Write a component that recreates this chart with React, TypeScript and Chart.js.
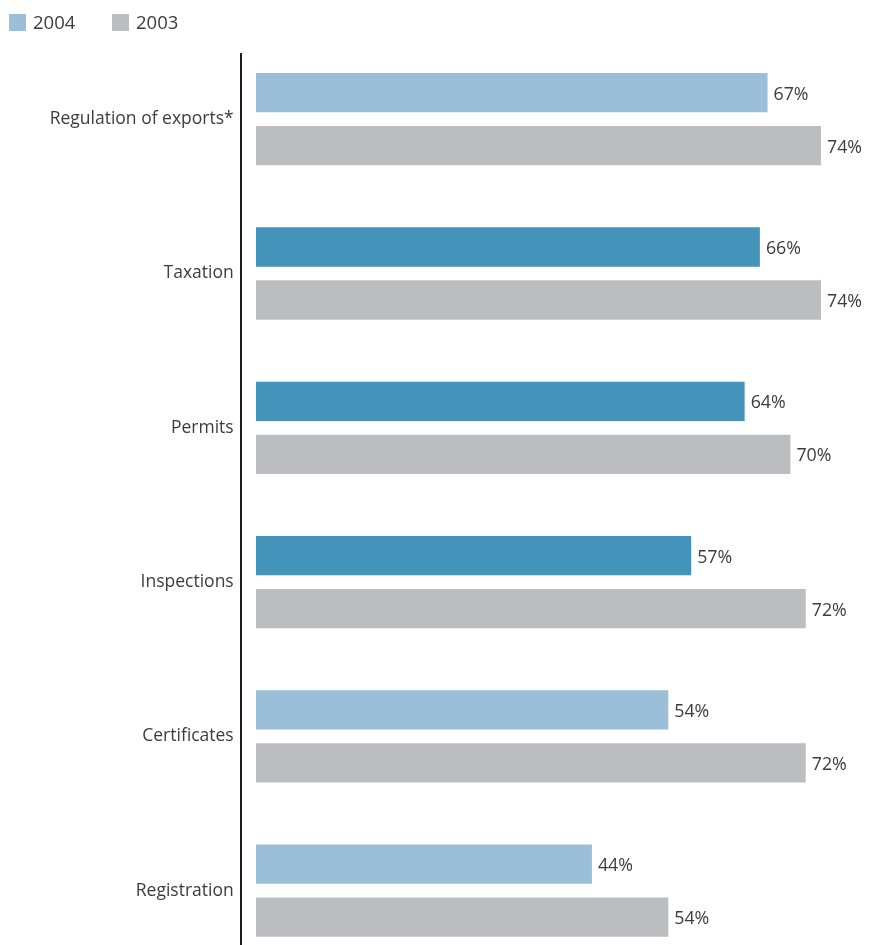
import React, { useEffect, useRef } from "react";
import { Chart, registerables } from "chart.js";

Chart.register(...registerables);

const categories = [
  "Regulation of exports*",
  "Taxation",
  "Permits",
  "Inspections",
  "Certificates",
  "Registration",
];
const values2004 = [67, 66, 64, 57, 54, 44];
const values2003 = [74, 74, 70, 72, 72, 54];
const seriesLabels = ["2004", "2003"];

const LIGHT_BLUE = "#9bbfd9";
const DARK_BLUE = "#4493bb";
const GRAY = "#bcbdc1";
const highlight2004 = [false, true, true, true, false, false];
const colors2004 = highlight2004.map((h) => (h ? DARK_BLUE : LIGHT_BLUE));

const FONT = "'Open Sans', 'Noto Sans', sans-serif";
const TEXT = "#3c3c3c";

const valueLabelPlugin = {
  id: "valueLabels",
  afterDatasetsDraw(chart: any) {
    const ctx = chart.ctx;
    ctx.save();
    ctx.font = `17.8px ${FONT}`;
    ctx.fillStyle = TEXT;
    ctx.textAlign = "left";
    ctx.textBaseline = "middle";
    chart.data.datasets.forEach((ds: any, di: number) => {
      const meta = chart.getDatasetMeta(di);
      meta.data.forEach((el: any, i: number) => {
        ctx.fillText(`${ds.data[i].x}%`, el.x + 6, el.y + 2);
      });
    });
    ctx.restore();
  },
};

const legendPlugin = {
  id: "customLegend",
  afterDraw(chart: any) {
    const ctx = chart.ctx;
    ctx.save();
    ctx.font = `18.5px ${FONT}`;
    ctx.textAlign = "left";
    ctx.textBaseline = "alphabetic";
    const items = [
      { label: seriesLabels[0], color: LIGHT_BLUE, x: 9 },
      { label: seriesLabels[1], color: GRAY, x: 112 },
    ];
    items.forEach((it) => {
      ctx.fillStyle = it.color;
      ctx.fillRect(it.x, 14, 17, 17);
      ctx.fillStyle = TEXT;
      ctx.fillText(it.label, it.x + 24, 28.5);
    });
    ctx.restore();
  },
};

export default function App() {
  const ref = useRef<HTMLCanvasElement>(null);
  useEffect(() => {
    if (!ref.current) return;
    const chart = new Chart(ref.current, {
      type: "bar",
      data: {
        datasets: [
          {
            label: seriesLabels[0],
            data: values2004.map((v, i) => ({ x: v, y: i })),
            backgroundColor: colors2004,
            categoryPercentage: 0.687,
            barPercentage: 0.742,
          },
          {
            label: seriesLabels[1],
            data: values2003.map((v, i) => ({ x: v, y: i })),
            backgroundColor: GRAY,
            categoryPercentage: 0.687,
            barPercentage: 0.742,
          },
        ],
      },
      options: {
        indexAxis: "y",
        responsive: false,
        animation: false,
        layout: { padding: { top: 54, right: 2.2, left: 0, bottom: 0 } },
        plugins: {
          legend: { display: false },
          tooltip: { enabled: false },
        },
        scales: {
          x: {
            type: "linear",
            min: -2,
            max: 80,
            offset: false,
            display: false,
          },
          y: {
            type: "linear",
            reverse: true,
            offset: false,
            bounds: "data",
            min: -0.4225,
            max: 5.352,
            afterBuildTicks: (scale: any) => {
              scale.ticks = categories.map((_, i) => ({ value: i }));
            },
            afterFit: (scale: any) => {
              scale.width = 240.7;
              scale.paddingTop = 0;
              scale.paddingBottom = 0;
            },
            grid: { display: false, drawTicks: false, offset: false },
            border: { display: true, color: "#1e1e1e", width: 2 },
            ticks: {
              padding: 7,
              color: TEXT,
              font: { family: FONT, size: 17.5 },
              callback: (value: any) => categories[Math.round(Number(value))] ?? "",
            },
          },
        },
      },
      plugins: [valueLabelPlugin, legendPlugin],
    });
    return () => chart.destroy();
  }, []);
  return (
    <div style={{ position: "fixed", left: 0, top: 0, width: 869, height: 945, background: "#fff" }}>
      <canvas ref={ref} width={869} height={945} style={{ display: "block" }} />
    </div>
  );
}
